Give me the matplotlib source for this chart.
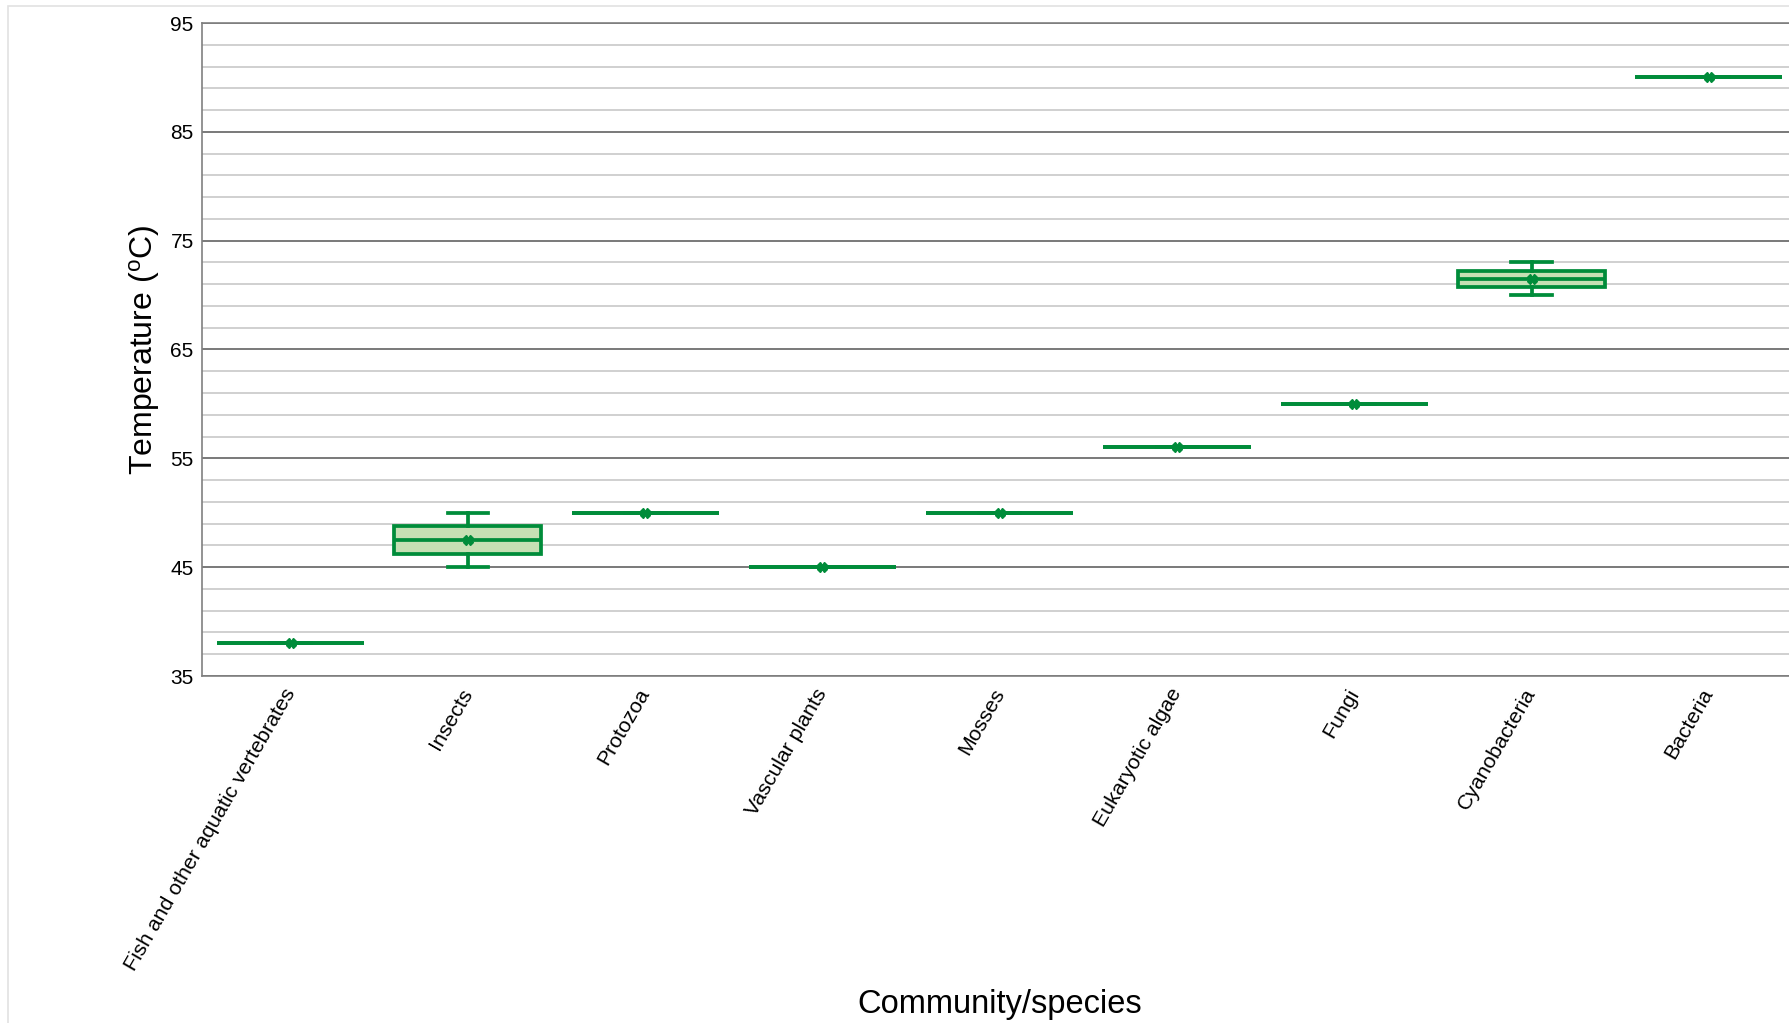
import matplotlib
matplotlib.use("Agg")
import matplotlib.pyplot as plt
from matplotlib.patches import Rectangle

plt.rcParams["font.family"] = ["Liberation Sans", "DejaVu Sans"]
plt.rcParams["mathtext.fontset"] = "custom"
plt.rcParams["mathtext.rm"] = "Liberation Sans"

# Upper temperature limits reported for each community/species (°C)
categories = [
    "Fish and other aquatic vertebrates",
    "Insects",
    "Protozoa",
    "Vascular plants",
    "Mosses",
    "Eukaryotic algae",
    "Fungi",
    "Cyanobacteria",
    "Bacteria",
]
fish = [38]
insects = [45, 50]
protozoa = [50]
vascular_plants = [45]
mosses = [50]
eukaryotic_algae = [56]
fungi = [60]
cyanobacteria = [70, 73]
bacteria = [90]

series = [fish, insects, protozoa, vascular_plants, mosses,
          eukaryotic_algae, fungi, cyanobacteria, bacteria]

GREEN = "#008C3A"
FILL = "#C6E0B4"

W, H, DPI = 1789, 1023, 100
fig = plt.figure(figsize=(W / DPI, H / DPI), dpi=DPI)
fig.patch.set_facecolor("white")

# thin frame around the figure
fig.patches.append(Rectangle((8 / W, -0.1), 1.2, 1 - 6 / H + 0.1,
                             transform=fig.transFigure, fill=False,
                             edgecolor="#e2e2e2", linewidth=1.2, zorder=0))

left, right, top, bottom = 202, 1797.5, 23, 676
ax = fig.add_axes([left / W, 1 - bottom / H, (right - left) / W, (bottom - top) / H])

LW = 2.7
positions = list(range(len(categories)))
ax.boxplot(
    series,
    positions=positions,
    widths=0.83,
    whis=(0, 100),
    patch_artist=True,
    showmeans=True,
    showfliers=False,
    capwidths=0.23,
    boxprops=dict(facecolor=FILL, edgecolor=GREEN, linewidth=LW),
    medianprops=dict(color=GREEN, linewidth=LW),
    whiskerprops=dict(color=GREEN, linewidth=LW),
    capprops=dict(color=GREEN, linewidth=LW),
    meanprops=dict(marker="X", markerfacecolor=GREEN, markeredgecolor=GREEN,
                   markersize=7),
    zorder=3,
)

ax.set_xlim(-0.5, len(categories) - 0.5)
ax.set_ylim(35, 95)
ax.set_yticks(range(35, 96, 10))
ax.set_yticks(range(37, 95, 2), minor=True)

ax.grid(which="major", axis="y", color="#555555", linewidth=1.1)
ax.grid(which="minor", axis="y", color="#cdcdcd", linewidth=1.3)
ax.set_axisbelow(True)

for side in ("left", "bottom", "top"):
    ax.spines[side].set_color("#808080")
    ax.spines[side].set_linewidth(1.2)
ax.spines["right"].set_visible(False)

ax.tick_params(axis="y", which="both", length=0, pad=6, labelsize=15)
ax.tick_params(axis="x", length=0, pad=10)
ax.set_xticks(positions)
ax.set_xticklabels(categories, rotation=60, ha="right", va="center",
                   rotation_mode="anchor", fontsize=15.3)

ax.set_ylabel(r"Temperature ($\mathregular{^o}$C)", fontsize=23)
ax.yaxis.set_label_coords(145 / W, 1 - 350 / H, transform=fig.transFigure)
ax.yaxis.label.set_verticalalignment("center")

ax.set_xlabel("Community/species", fontsize=23.5, va="baseline")
ax.xaxis.set_label_coords(1000 / W, 1 - 1013 / H, transform=fig.transFigure)

fig.savefig("out.png", dpi=DPI)
